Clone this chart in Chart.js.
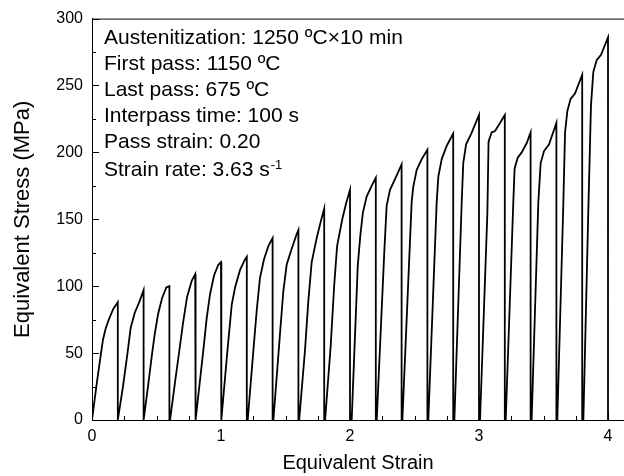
<!DOCTYPE html>
<html>
<head>
<meta charset="utf-8">
<script src="https://cdn.jsdelivr.net/npm/chart.js@4.4.0/dist/chart.umd.min.js"></script>
<style>
  html, body { margin: 0; padding: 0; background: #fff; }
  #wrap { width: 624px; height: 476px; }
</style>
</head>
<body>
<div id="wrap"><canvas id="chart"></canvas></div>
<script>
// Flow curves of each pass: [strain, stress (MPa)]
const pass01 = [[0, 0], [0.035, 26], [0.07, 50], [0.085, 60], [0.105, 68], [0.13, 75], [0.165, 83], [0.2, 88], [0.2, 0]];
const pass02 = [[0.2, 0], [0.24, 25], [0.274, 49], [0.3, 69], [0.331, 80], [0.37, 89], [0.4, 97], [0.4, 0]];
const pass03 = [[0.4, 0], [0.434, 25], [0.465, 49], [0.486, 64], [0.512, 79], [0.543, 91], [0.576, 99], [0.6, 100], [0.6, 0]];
const pass04 = [[0.605, 0], [0.646, 30], [0.68, 54], [0.705, 72], [0.737, 92], [0.773, 104], [0.8, 109], [0.8, 0]];
const pass05 = [[0.806, 0], [0.863, 52], [0.889, 76], [0.915, 94], [0.946, 108], [0.979, 116], [1.0, 118], [1.0, 0]];
const pass06 = [[1.005, 0], [1.05, 52], [1.083, 86], [1.109, 99], [1.147, 112], [1.186, 120], [1.2, 122], [1.2, 0]];
const pass07 = [[1.207, 0], [1.251, 52], [1.277, 82], [1.302, 106], [1.333, 120], [1.367, 130], [1.4, 136], [1.4, 0]];
const pass08 = [[1.406, 0], [1.457, 64], [1.483, 96], [1.509, 116], [1.548, 128], [1.587, 139], [1.6, 142], [1.6, 0]];
const pass09 = [[1.606, 0], [1.651, 52], [1.677, 89], [1.703, 118], [1.742, 136], [1.775, 149], [1.8, 158], [1.8, 0]];
const pass10 = [[1.807, 0], [1.85, 55], [1.877, 100], [1.9, 130], [1.94, 150], [1.97, 162], [2.0, 172], [2.0, 0]];
const pass11 = [[2.013, 0], [2.06, 115], [2.08, 138], [2.1, 155], [2.129, 167], [2.168, 175], [2.2, 181], [2.2, 0]];
const pass12 = [[2.207, 0], [2.266, 126], [2.284, 160], [2.31, 172], [2.349, 180], [2.4, 191], [2.4, 0]];
const pass13 = [[2.406, 0], [2.478, 163], [2.49, 174], [2.517, 187], [2.556, 195], [2.6, 202], [2.6, 0]];
const pass14 = [[2.607, 0], [2.672, 163], [2.685, 182], [2.711, 195], [2.75, 205], [2.8, 214], [2.8, 0]];
const pass15 = [[2.809, 0], [2.866, 163], [2.878, 192], [2.9, 206], [2.94, 214], [3.0, 228], [3.0, 0]];
const pass16 = [[3.008, 0], [3.065, 155], [3.074, 208], [3.098, 215], [3.124, 216], [3.163, 222], [3.2, 228], [3.2, 0]];
const pass17 = [[3.207, 0], [3.266, 163], [3.276, 188], [3.3, 196], [3.331, 200], [3.37, 207], [3.4, 215], [3.4, 0]];
const pass18 = [[3.408, 0], [3.46, 163], [3.478, 192], [3.504, 201], [3.543, 206], [3.6, 222], [3.6, 0]];
const pass19 = [[3.607, 0], [3.654, 163], [3.667, 215], [3.685, 231], [3.71, 240], [3.744, 244], [3.8, 258], [3.8, 0]];
const pass20 = [[3.809, 0], [3.847, 155], [3.868, 235], [3.886, 260], [3.912, 269], [3.946, 273], [4.0, 286], [4.0, 0]];

const passes = [pass01, pass02, pass03, pass04, pass05, pass06, pass07, pass08, pass09, pass10,
                pass11, pass12, pass13, pass14, pass15, pass16, pass17, pass18, pass19, pass20];

const xLabelEvery = 1;     // labelled strain ticks
const yLabelEvery = 50;    // labelled stress ticks
const notes = [
    'Austenitization: 1250 \u00baC\u00d710 min',
    'First pass: 1150 \u00baC',
    'Last pass: 675 \u00baC',
    'Interpass time: 100 s',
    'Pass strain: 0.20',
    'Strain rate: 3.63 s'
];
const noteSup = '-1';

const FONT = 'Arial, "Liberation Sans", Helvetica, sans-serif';

// all passes joined into one trace
const points = [];
passes.forEach(p => p.forEach(([x, y]) => points.push({ x: x, y: y })));

function isLabelled(v, every) {
    const r = v / every;
    return Math.abs(r - Math.round(r)) < 1e-6;
}

// inward ticks, top frame line and the text block
const framePlugin = {
    id: 'frame',
    afterDraw(chart) {
        const ctx = chart.ctx;
        const area = chart.chartArea;
        const xs = chart.scales.x, ys = chart.scales.y;
        ctx.save();
        ctx.strokeStyle = '#000';
        ctx.lineWidth = 1;
        ctx.beginPath();
        ctx.moveTo(area.left, area.top + 0.5);
        ctx.lineTo(area.right, area.top + 0.5);
        xs.ticks.forEach(t => {
            const px = Math.round(xs.getPixelForValue(t.value)) + 0.5;
            const len = isLabelled(t.value, xLabelEvery) ? 7 : 4;
            ctx.moveTo(px, area.bottom);
            ctx.lineTo(px, area.bottom - len);
        });
        ys.ticks.forEach(t => {
            const py = Math.round(ys.getPixelForValue(t.value)) + 0.5;
            const len = isLabelled(t.value, yLabelEvery) ? 7 : 4;
            ctx.moveTo(area.left, py);
            ctx.lineTo(area.left + len, py);
        });
        ctx.stroke();

        // annotation, alphabetic baselines
        ctx.fillStyle = '#000';
        ctx.textBaseline = 'alphabetic';
        ctx.textAlign = 'left';
        const x0 = area.left + 12;
        notes.forEach((s, i) => {
            const last = i === notes.length - 1;
            const y = 44 + i * 26 + (last ? 2 : 0);
            ctx.font = '21px ' + FONT;
            ctx.fillText(s, x0, y);
            if (last) {
                const w = ctx.measureText(s).width;
                ctx.font = '13px ' + FONT;
                ctx.fillText(noteSup, x0 + w + 1, y - 7);
            }
        });
        ctx.restore();
    }
};

new Chart(document.getElementById('chart'), {
    type: 'scatter',
    data: {
        datasets: [{
            data: points,
            showLine: true,
            borderColor: '#000',
            borderWidth: 1.8,
            pointRadius: 0,
            tension: 0
        }]
    },
    options: {
        responsive: true,
        maintainAspectRatio: false,
        animation: false,
        events: [],
        layout: { padding: { top: 15, right: 0, left: 0, bottom: 0 } },
        plugins: { legend: { display: false }, tooltip: { enabled: false } },
        scales: {
            x: {
                type: 'linear',
                min: 0,
                max: 4.124,
                afterFit: s => { s.height = 56; },
                grid: { display: false, drawTicks: false },
                border: { display: true, color: '#000', width: 1 },
                ticks: {
                    stepSize: 0.25,
                    includeBounds: false,
                    autoSkip: false,
                    maxRotation: 0,
                    padding: 7,
                    color: '#000',
                    font: { family: FONT, size: 16 },
                    callback: v => isLabelled(v, xLabelEvery) ? String(Math.round(v)) : ''
                },
                title: {
                    display: true,
                    text: 'Equivalent Strain',
                    color: '#000',
                    font: { family: FONT, size: 20 },
                    padding: { top: 0, bottom: 1 }
                }
            },
            y: {
                min: 0,
                max: 300,
                afterFit: s => { s.width = 92; },
                grid: { display: false, drawTicks: false },
                border: { display: true, color: '#000', width: 1 },
                ticks: {
                    stepSize: 25,
                    autoSkip: false,
                    padding: 9,
                    color: '#000',
                    font: { family: FONT, size: 16 },
                    callback: v => isLabelled(v, yLabelEvery) ? String(v) : ''
                },
                title: {
                    display: true,
                    text: 'Equivalent Stress (MPa)',
                    color: '#000',
                    font: { family: FONT, size: 22 },
                    padding: { top: 10, bottom: 0 }
                }
            }
        }
    },
    plugins: [framePlugin]
});
</script>
</body>
</html>
